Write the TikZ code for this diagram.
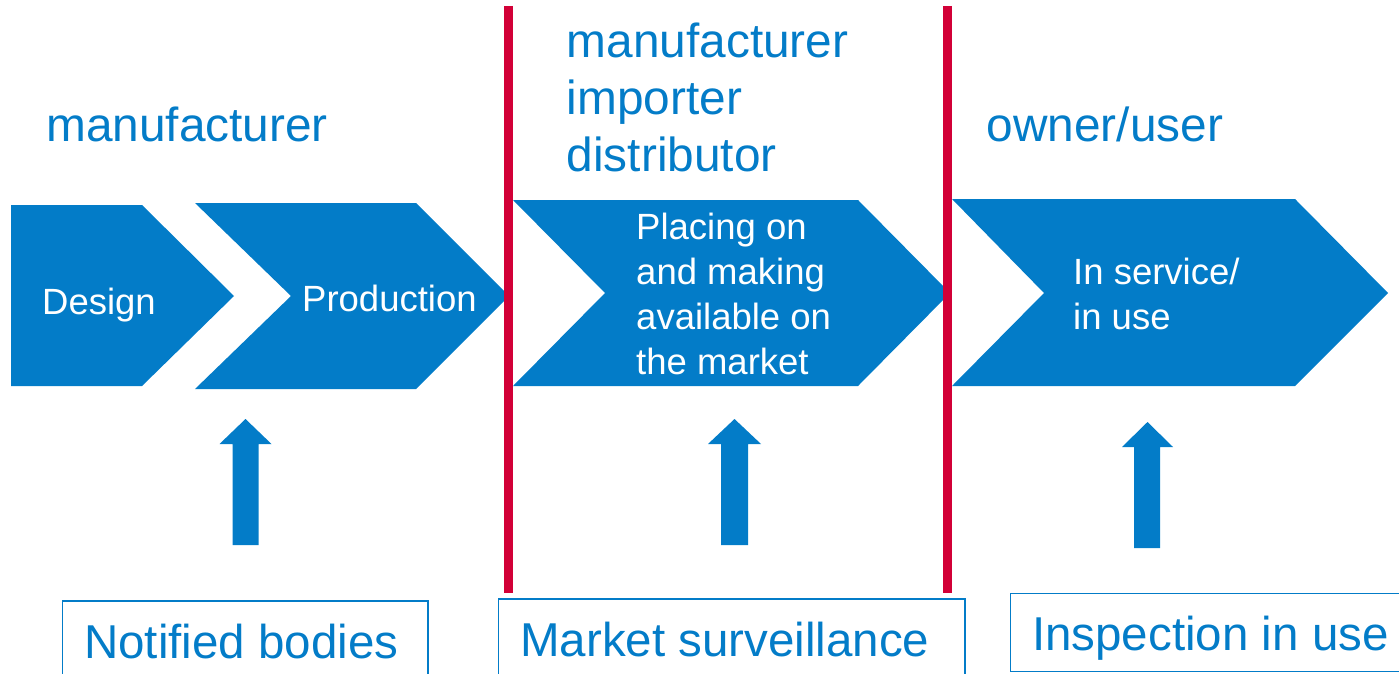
\documentclass[tikz,border=0pt]{standalone}
\usepackage{fontspec}
\setmainfont{Liberation Sans}
\definecolor{eublue}{RGB}{3,124,200}
\definecolor{eured}{RGB}{210,0,55}
\begin{document}
\begin{tikzpicture}[x=1pt,y=-1pt,
  chev/.style={fill=eublue},
  upar/.style={fill=eublue},
  divider/.style={draw=eured,line width=8.7pt},
  actor/.style={text=eublue,inner sep=0pt,align=left,font=\fontsize{47.8}{57}\selectfont},
  stagetxt/.style={text=white,inner sep=0pt,align=left,font=\fontsize{36.5}{44.8}\selectfont},
  bodybox/.style={draw=eublue,line width=1.5pt},
  bodytxt/.style={text=eublue,inner sep=0pt,anchor=base west,font=\fontsize{47.5}{57}\selectfont}]
\useasboundingbox (0,0) rectangle (1399,674);
\clip (0,0) rectangle (1399,674);
% stage chevrons
\fill[chev] (11,205) -- (142,205) -- (234,296) -- (142,386) -- (11,386) -- cycle;
\fill[chev] (195,203) -- (416,203) -- (509,296) -- (416,389) -- (195,389) -- (291,296) -- cycle;
\fill[chev] (513,200) -- (858,200) -- (950,293) -- (858,386) -- (513,386) -- (605,293) -- cycle;
\fill[chev] (952,199) -- (1295,199) -- (1388,293) -- (1295,386) -- (952,386) -- (1044,293) -- cycle;
% stage texts
\node[stagetxt,anchor=base west] (design) at (42,314) {Design};
\node[stagetxt,anchor=base west] (production) at (302,311) {Production};
\node[stagetxt,anchor=north west] (placing) at (636,213.3) {Placing on\\and making\\available on\\the market};
\node[stagetxt,anchor=north west] (service) at (1073,258) {In service/\\in use};
% dividers
\coordinate (d1t) at (508.3,6);
\coordinate (d1b) at (508.3,593);
\coordinate (d2t) at (947.3,6);
\coordinate (d2b) at (947.3,593);
\draw[divider] (d1t) -- (d1b);
\draw[divider] (d2t) -- (d2b);
% actors
\node[actor,anchor=base west] (manu) at (46,141.7) {manufacturer};
\node[actor,anchor=north west] (chain) at (566.5,22.3) {manufacturer\\importer\\distributor};
\node[actor,anchor=base west] (owner) at (986.5,141.7) {owner/user};
% up arrows
\fill[upar] (245.5,419) -- (271.5,444) -- (258.5,444) -- (258.5,545) -- (232.5,545) -- (232.5,444) -- (219.5,444) -- cycle;
\fill[upar] (734.5,419) -- (761,444) -- (748,444) -- (748,545) -- (721,545) -- (721,444) -- (708,444) -- cycle;
\fill[upar] (1147.5,422) -- (1173,447) -- (1160,447) -- (1160,548) -- (1134,548) -- (1134,447) -- (1122,447) -- cycle;
% bodies
\draw[bodybox] (62.5,601) rectangle (428,690);
\draw[bodybox] (498.5,599) rectangle (965,690);
\draw[bodybox] (1010.5,593.5) rectangle (1410,671.5);
\node[bodytxt] (nb) at (84,658) {Notified bodies};
\node[bodytxt] (ms) at (520,656) {Market surveillance};
\node[bodytxt] (iu) at (1032,650) {Inspection in use};
\end{tikzpicture}
\end{document}
